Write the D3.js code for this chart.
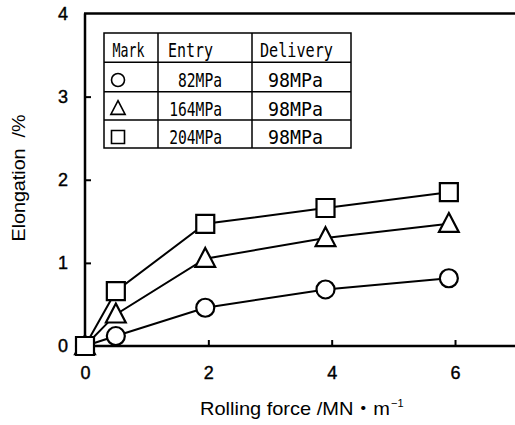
<!DOCTYPE html>
<html><head><meta charset="utf-8">
<script src="https://cdn.jsdelivr.net/npm/d3@7"></script>
<style>body{margin:0;background:#fff}svg{display:block}</style>
</head><body>
<svg id="c" width="515" height="425"></svg>
<script>
// ---- data ----
const force = [0, 0.5, 1.95, 3.9, 5.9];
const elongCircle = [0, 0.12, 0.46, 0.68, 0.815];
const elongTriangle = [0, 0.38, 1.05, 1.30, 1.47];
const elongSquare = [0, 0.66, 1.47, 1.66, 1.85];
const xTicks = [0, 2, 4, 6];
const yTicks = [0, 1, 2, 3, 4];
const legendHeader = ["Mark", "Entry", "Delivery"];
const legendMarks = ["circle", "triangle", "square"];
const legendEntry = ["82MPa", "164MPa", "204MPa"];
const legendDelivery = ["98MPa", "98MPa", "98MPa"];

const series = [
  {mark: "circle", values: elongCircle},
  {mark: "triangle", values: elongTriangle},
  {mark: "square", values: elongSquare}
];

const svg = d3.select("#c");
const x = d3.scaleLinear().domain([0, 7]).range([85, 85 + 7 * 61.67]);
const y = d3.scaleLinear().domain([0, 4]).range([346, 13.5]);
const font = "'Liberation Sans', Arial, 'Noto Sans CJK JP', sans-serif";

// axes
const yAxis = d3.axisLeft(y).tickValues(yTicks).tickSizeInner(-6).tickSizeOuter(0).tickPadding(17).tickFormat(d3.format("d"));
const gy = svg.append("g").attr("transform", `translate(${x(0)},0)`).call(yAxis);
const xAxis = d3.axisBottom(x).tickValues(xTicks).tickSizeInner(-6).tickSizeOuter(0).tickPadding(20).tickFormat(d3.format("d"));
const gx = svg.append("g").attr("transform", `translate(0,${y(0)})`).call(xAxis);
[gx, gy].forEach(g => {
  g.select(".domain").remove();
  g.selectAll(".tick line").attr("stroke", "#000").attr("stroke-width", 2);
  g.selectAll(".tick text").attr("font-family", font).attr("font-size", 18).attr("fill", "#000")
    .attr("stroke", "#000").attr("stroke-width", 0.4);
});
gx.selectAll(".tick").filter(d => d === 0).select("line").remove();
gy.selectAll(".tick").filter(d => d === 0 || d === 4).select("line").remove();

// frame lines
svg.append("line").attr("x1", x(0)).attr("x2", 515).attr("y1", y(0)).attr("y2", y(0)).attr("stroke", "#000").attr("stroke-width", 2.5);
svg.append("line").attr("x1", x(0)).attr("x2", x(0)).attr("y1", y(4)).attr("y2", y(0)).attr("stroke", "#000").attr("stroke-width", 2.5);
svg.append("line").attr("x1", x(0) - 1).attr("x2", 515).attr("y1", y(4)).attr("y2", y(4)).attr("stroke", "#000").attr("stroke-width", 2.5);

// axis titles
svg.append("text").attr("x", 200).attr("y", 415)
  .attr("font-family", font).attr("font-size", 18.5).attr("fill", "#000")
  .attr("textLength", 190).attr("lengthAdjust", "spacingAndGlyphs")
  .text("Rolling force /MN・m");
svg.append("text").attr("x", 391).attr("y", 407).attr("font-family", font).attr("font-size", 11).attr("fill", "#000").text("−1");
svg.append("text").attr("transform", "translate(25,178) rotate(-90)").attr("text-anchor", "middle")
  .attr("font-family", font).attr("font-size", 18.5).attr("fill", "#000")
  .attr("textLength", 127).attr("lengthAdjust", "spacingAndGlyphs")
  .text("Elongation\u00a0\u00a0/%");

// marker paths
function markPath(type, s) {
  if (type === "circle") return d3.symbol(d3.symbolCircle, Math.PI * s * s / 4)();
  if (type === "square") return `M${-s/2},${-s/2}h${s}v${s}h${-s}Z`;
  const w = s * 1.1, h = s;
  return `M0,${-h*0.6}L${w/2},${h*0.45}L${-w/2},${h*0.45}Z`;
}

// lines
const line = d3.line().x((d, i) => x(force[i])).y(d => y(d));
series.forEach(s => {
  svg.append("path").attr("d", line(s.values)).attr("fill", "none").attr("stroke", "#000").attr("stroke-width", 2);
});
series.forEach(s => {
  svg.append("g").selectAll("path").data(s.values).join("path")
    .attr("transform", (d, i) => `translate(${x(force[i])},${y(d)})`)
    .attr("d", markPath(s.mark, 18))
    .attr("fill", "#fff").attr("stroke", "#000").attr("stroke-width", 2.2);
});

// legend table
const tL = 104, tR = 351, tT = 33, tB = 148;
const colX = [tL, 158, 252, tR];
const rowY = [tT, 62.3, 91.7, 120, tB];
const tg = svg.append("g");
tg.append("rect").attr("x", tL).attr("y", tT).attr("width", tR - tL).attr("height", tB - tT).attr("fill", "#fff").attr("stroke", "#000").attr("stroke-width", 1.5);
colX.slice(1, 3).forEach(cx => tg.append("line").attr("x1", cx).attr("x2", cx).attr("y1", tT).attr("y2", tB).attr("stroke", "#000").attr("stroke-width", 1.5));
rowY.slice(1, 4).forEach(ry => tg.append("line").attr("x1", tL).attr("x2", tR).attr("y1", ry).attr("y2", ry).attr("stroke", "#000").attr("stroke-width", 1.5));
const mono = "'DejaVu Sans Mono', 'Liberation Mono', monospace";
function cellText(txt, xx, yy, len, anchor) {
  tg.append("text").attr("x", xx).attr("y", yy).attr("text-anchor", anchor || "start")
    .attr("font-family", mono).attr("font-size", 19).attr("fill", "#000")
    .attr("textLength", len).attr("lengthAdjust", "spacingAndGlyphs").text(txt);
}
const hdrX = [112.5, 168, 260], hdrLen = [32, 45, 73];
legendHeader.forEach((h, i) => cellText(h, hdrX[i], 57, hdrLen[i]));
const baseY = [87, 115.5, 144];
legendMarks.forEach((m, i) => {
  tg.append("path").attr("transform", `translate(118,${baseY[i] - 7})`).attr("d", markPath(m, 13))
    .attr("fill", "#fff").attr("stroke", "#000").attr("stroke-width", 1.6);
});
legendEntry.forEach((t, i) => cellText(t, 222, baseY[i], t.length * 8.8, "end"));
legendDelivery.forEach((t, i) => cellText(t, 268, baseY[i], 55));
</script>
</body></html>
